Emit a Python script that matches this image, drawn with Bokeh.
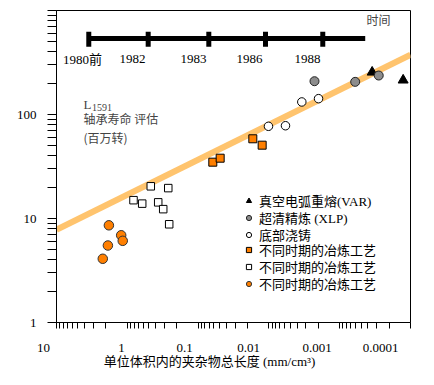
from bokeh.plotting import figure
from bokeh.layouts import column
from bokeh.models import Range1d, FixedTicker, Label, Legend, LegendItem, ColumnDataSource
from bokeh.core.properties import value
from bokeh.embed import file_html
from bokeh.resources import INLINE

# ---------------- data ----------------
var_x = [0.000348, 0.000127]
var_y = [255, 214]
xlp_x = [0.00227, 0.000604, 0.000281]
xlp_y = [209, 206, 237]
bottom_x = [0.01014, 0.00583, 0.00343, 0.00199]
bottom_y = [77, 78, 132, 142]
orange_sq_x = [0.0620, 0.0488, 0.01687, 0.01245]
orange_sq_y = [34.8, 38.0, 58.4, 50.7]
white_sq_x = [0.817, 0.616, 0.466, 0.366, 0.311, 0.264, 0.256]
white_sq_y = [15.0, 13.9, 20.4, 14.3, 12.3, 19.6, 8.8]
orange_ci_x = [1.82, 1.22, 1.16, 1.88, 2.22]
orange_ci_y = [8.6, 6.9, 6.1, 5.5, 4.1]
trend_x = [10, 0.0001]
trend_y = [7.8, 375]

timeline_x = [3.50, 0.507, 0.0706, 0.01117, 0.001734]
timeline_end_x = 0.000436
timeline_y = 538
timeline_tick_lo = 448
timeline_tick_hi = 624
timeline_labels = ["1980前", "1982", "1983", "1986", "1988"]
timeline_label_x = [4.29, 0.845, 0.116, 0.0188, 0.00285]
timeline_label_y = 338

legend_labels = ["真空电弧重熔(VAR)", "超清精炼 (XLP)", "底部浇铸",
                 "不同时期的冶炼工艺", "不同时期的冶炼工艺", "不同时期的冶炼工艺"]
x_tick_values = [10, 1, 0.1, 0.01, 0.001, 0.0001]
x_tick_labels = ["10", "1", "0.1", "0.01", "0.001", "0.0001"]
y_tick_values = [1, 10, 100]
y_tick_labels = ["1", "10", "100"]
x_title = "单位体积内的夹杂物总长度 (mm/cm³)"

SERIF = "Liberation Serif, Noto Sans CJK SC"
CJK = "Noto Sans CJK SC"

p = figure(width=418, height=330, x_axis_type="log", y_axis_type="log",
           x_range=Range1d(10, 0.0001), y_range=Range1d(1, 1000),
           output_backend="svg", toolbar_location=None,
           min_border_left=56, min_border_right=8, min_border_top=10, min_border_bottom=8)
p.grid.visible = False
p.outline_line_color = "black"
p.outline_line_alpha = 1
p.background_fill_color = "white"
p.border_fill_color = "white"

xminor = [m * 10.0 ** e for e in range(-4, 1) for m in range(2, 10)]
p.xaxis.ticker = FixedTicker(ticks=x_tick_values, minor_ticks=xminor)
p.xaxis.major_tick_out = 6
p.xaxis.minor_tick_out = 6
p.xaxis.major_tick_in = 0
p.xaxis.minor_tick_in = 0
p.xaxis.major_label_overrides = {v: "" for v in x_tick_values}
p.xaxis.major_label_text_font_size = "1px"
p.xaxis.major_label_standoff = 0
p.xaxis.axis_line_color = "black"

yminor = [m * 10.0 ** e for e in range(0, 3) for m in range(2, 10)] + [1000]
p.yaxis.ticker = FixedTicker(ticks=y_tick_values, minor_ticks=yminor)
p.yaxis.major_label_overrides = {v: t for v, t in zip(y_tick_values, y_tick_labels)}
p.yaxis.major_tick_out = 9
p.yaxis.minor_tick_out = 9
p.yaxis.major_tick_in = 0
p.yaxis.minor_tick_in = 0
p.yaxis.major_label_standoff = 11
p.yaxis.major_label_text_font = SERIF
p.yaxis.major_label_text_font_size = "13px"
p.yaxis.major_label_text_color = "black"
p.yaxis.axis_line_color = "black"

# trend line
p.line(trend_x, trend_y, line_width=6, line_color="#FFC46E")

# timeline
p.line([timeline_x[0], timeline_end_x], [timeline_y, timeline_y], line_width=5, line_color="black")
p.segment(x0=timeline_x, x1=timeline_x, y0=[timeline_tick_lo] * len(timeline_x),
          y1=[timeline_tick_hi] * len(timeline_x), line_width=5, line_color="black")
tl_src = ColumnDataSource(dict(x=timeline_label_x, y=[timeline_label_y] * len(timeline_label_x),
                               t=timeline_labels))
p.text(x="x", y="y", text="t", source=tl_src, text_align="center", text_baseline="middle",
       text_font=value(SERIF), text_font_size="13px", text_color="black")

# series
r_var = p.scatter(var_x, var_y, marker="triangle", size=10, fill_color="black", line_color="black")
r_xlp = p.scatter(xlp_x, xlp_y, marker="circle", size=9, fill_color="#8C8C8C", line_color="#222222")
r_bot = p.scatter(bottom_x, bottom_y, marker="circle", size=8.5, fill_color="white", line_color="black")
r_osq = p.scatter(orange_sq_x, orange_sq_y, marker="square", size=8, fill_color="#FF7F00", line_color="black")
r_wsq = p.scatter(white_sq_x, white_sq_y, marker="square", size=7.5, fill_color="white", line_color="black")
r_oci = p.scatter(orange_ci_x, orange_ci_y, marker="circle", size=9.5, fill_color="#FF7F00", line_color="#333333")

# legend: one single-item legend per row so the row pitch matches the reference
renderers = [r_var, r_xlp, r_bot, r_osq, r_wsq, r_oci]
legend_row_bottom = [112, 95, 78, 63, 46, 29.5]
for lab, r, yb in zip(legend_labels, renderers, legend_row_bottom):
    lg = Legend(items=[LegendItem(label=lab, renderers=[r])],
                location=(186, yb), padding=0, margin=0, spacing=0,
                glyph_width=13, glyph_height=13, label_height=16, label_standoff=4,
                border_line_color=None, background_fill_alpha=0,
                label_text_font=SERIF, label_text_font_size="13px", label_text_color="black")
    p.add_layout(lg)

# in-plot annotations (frame-relative screen positions)
p.add_layout(Label(x=27, y=218, x_units="screen", y_units="screen", text="L",
                   text_align="left", text_baseline="middle", text_font=SERIF, text_font_size="13px"))
p.add_layout(Label(x=35.5, y=215.5, x_units="screen", y_units="screen", text="1591",
                   text_align="left", text_baseline="middle", text_font=SERIF, text_font_size="10px"))
p.add_layout(Label(x=27, y=204, x_units="screen", y_units="screen", text="轴承寿命 评估",
                   text_align="left", text_baseline="middle", text_font=CJK, text_font_size="12px"))
p.add_layout(Label(x=27, y=185, x_units="screen", y_units="screen", text="(百万转)",
                   text_align="left", text_baseline="middle", text_font=CJK, text_font_size="12px"))
p.add_layout(Label(x=322, y=303, x_units="screen", y_units="screen", text="时间",
                   text_align="center", text_baseline="middle", text_font=CJK, text_font_size="12px"))

# strip below the plot with the x tick labels and the x-axis title
p2 = figure(width=418, height=42, x_range=Range1d(0, 418), y_range=Range1d(0, 42),
            output_backend="svg", toolbar_location=None,
            x_axis_location=None, y_axis_location=None, min_border=0)
p2.grid.visible = False
p2.outline_line_color = None
p2.background_fill_color = "white"
p2.border_fill_color = "white"
p.frame_align = False
p2.frame_align = False
x_label_px = [43, 121, 184, 248, 316.5, 380]
p2.text(x=x_label_px, y=[25] * len(x_label_px), text=x_tick_labels, text_align="center",
        text_baseline="middle", text_font=value(SERIF), text_font_size="13px", text_color="black")
p2.text(x=[209], y=[11], text=[x_title], text_align="center", text_baseline="middle",
        text_font=value(SERIF), text_font_size="13px", text_color="black")

layout = column(p, p2, spacing=0)
open("out.html", "w").write(file_html(layout, INLINE))
